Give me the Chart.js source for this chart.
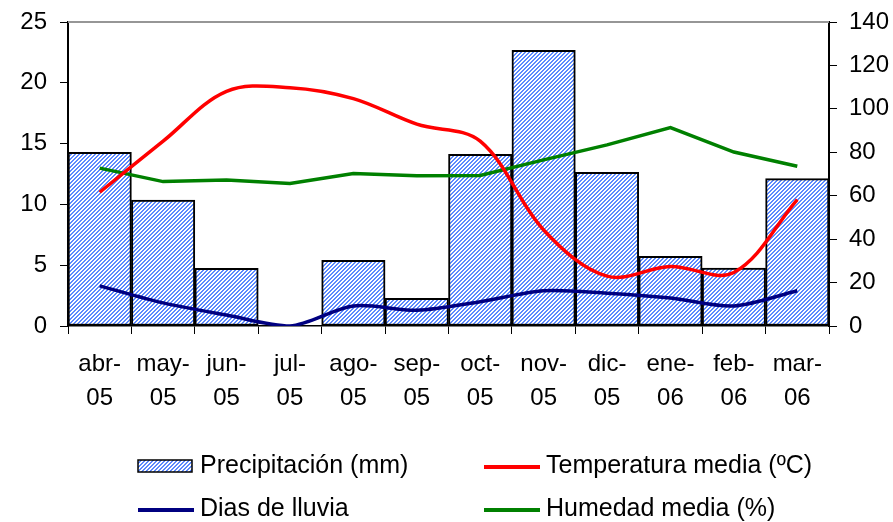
<!DOCTYPE html>
<html>
<head>
<meta charset="utf-8">
<script src="https://cdn.jsdelivr.net/npm/chart.js@4.4.1/dist/chart.umd.min.js"></script>
<style>
  body { margin: 0; background: #fff; }
  #wrap { width: 893px; height: 522px; position: relative; }
</style>
</head>
<body>
<div id="wrap"><canvas id="climaChart" width="893" height="522"></canvas></div>
<script>
// Data
const meses = [['abr-', '05'], ['may-', '05'], ['jun-', '05'], ['jul-', '05'], ['ago-', '05'], ['sep-', '05'],
  ['oct-', '05'], ['nov-', '05'], ['dic-', '05'], ['ene-', '06'], ['feb-', '06'], ['mar-', '06']];
const precipitacion = [80, 58, 26.6, 0, 30.3, 12.8, 79.1, 127, 70.8, 32.1, 26.7, 67.9]; // mm, right axis
const temperatura = [11.0, 15.2, 19.3, 19.6, 18.7, 16.6, 15.2, 7.9, 4.1, 4.9, 4.4, 10.4]; // ºC, left axis
const diasLluvia = [3.3, 1.9, 0.9, 0, 1.65, 1.3, 2.0, 2.9, 2.7, 2.3, 1.65, 2.9]; // left axis
const humedad = [72.7, 66.5, 67.2, 65.6, 70.2, 69.2, 69.3, 76.5, 83.4, 91.4, 80.1, 73.6]; // %, right axis

const leftTicks = [0, 5, 10, 15, 20, 25];
const rightTicks = [0, 20, 40, 60, 80, 100, 120, 140];

const FONT = '"Liberation Sans", Arial, sans-serif';

// Hatched fill for the precipitation bars
const makeHatch = () => {
  const c = document.createElement('canvas');
  c.width = 4;
  c.height = 4;
  const g = c.getContext('2d');
  g.fillStyle = '#ffffff';
  g.fillRect(0, 0, 4, 4);
  g.fillStyle = '#5c8aff';
  for (let x = 0; x < 4; x++) {
    for (let y = 0; y < 4; y++) {
      const k = (x + y) % 4;
      if (k === 0 || k === 1) g.fillRect(x, y, 1, 1);
    }
  }
  return g.createPattern(c, 'repeat');
};

const ctx = document.getElementById('climaChart').getContext('2d');
const hatch = makeHatch();

// Plot border (top) and custom two column legend
const extrasPlugin = {
  id: 'extras',
  beforeDatasetsDraw(chart) {
    const { ctx, chartArea } = chart;
    ctx.save();
    ctx.strokeStyle = '#969696';
    ctx.lineWidth = 2;
    ctx.beginPath();
    ctx.moveTo(chartArea.left, chartArea.top);
    ctx.lineTo(chartArea.right, chartArea.top);
    ctx.stroke();
    ctx.restore();
  },
  afterDraw(chart) {
    const { ctx } = chart;
    const items = [
      { text: 'Precipitación (mm)', x: 138, y: 466, type: 'box' },
      { text: 'Temperatura media (ºC)', x: 484, y: 466, type: 'line', color: '#ff0000' },
      { text: 'Dias de lluvia', x: 138, y: 509, type: 'line', color: '#000080' },
      { text: 'Humedad media (%)', x: 484, y: 509, type: 'line', color: '#008000' },
    ];
    ctx.save();
    ctx.font = '25px ' + FONT;
    ctx.textBaseline = 'middle';
    items.forEach((it) => {
      if (it.type === 'box') {
        ctx.fillStyle = hatch;
        ctx.fillRect(it.x, it.y - 6, 54, 12);
        ctx.strokeStyle = '#000';
        ctx.lineWidth = 1.5;
        ctx.strokeRect(it.x, it.y - 6, 54, 12);
      } else {
        ctx.strokeStyle = it.color;
        ctx.lineWidth = 4;
        ctx.beginPath();
        ctx.moveTo(it.x, it.y + 1);
        ctx.lineTo(it.x + 56, it.y + 1);
        ctx.stroke();
      }
      ctx.fillStyle = '#000';
      ctx.fillText(it.text, it.x + 62, it.y);
    });
    ctx.restore();
  },
};

const tickFont = { family: FONT, size: 24 };

const climaChart = new Chart(ctx, {
  type: 'bar',
  data: {
    labels: meses,
    datasets: [
      {
        label: 'Temperatura media (ºC)',
        type: 'line',
        data: temperatura,
        yAxisID: 'y',
        borderColor: '#ff0000',
        borderWidth: 3.5,
        pointRadius: 0,
        tension: 0.35,
        order: 1,
      },
      {
        label: 'Humedad media (%)',
        type: 'line',
        data: humedad,
        yAxisID: 'y1',
        borderColor: '#008000',
        borderWidth: 3.5,
        pointRadius: 0,
        tension: 0,
        order: 2,
      },
      {
        label: 'Dias de lluvia',
        type: 'line',
        data: diasLluvia,
        yAxisID: 'y',
        borderColor: '#000080',
        borderWidth: 3.5,
        pointRadius: 0,
        tension: 0.3,
        order: 3,
      },
      {
        label: 'Precipitación (mm)',
        data: precipitacion,
        yAxisID: 'y1',
        backgroundColor: hatch,
        borderColor: '#000000',
        borderWidth: 2,
        borderSkipped: false,
        barPercentage: 1,
        categoryPercentage: 1,
        order: 5,
      },
    ],
  },
  options: {
    responsive: false,
    animation: false,
    layout: {
      padding: { top: 22, left: 0, right: 0, bottom: 0 },
    },
    plugins: {
      legend: { display: false },
      tooltip: { enabled: false },
    },
    scales: {
      x: {
        offset: true,
        grid: {
          offset: true,
          drawOnChartArea: false,
          drawTicks: true,
          tickLength: 8,
          color: '#000',
        },
        border: { color: '#000', width: 1.5 },
        ticks: {
          color: '#000',
          font: { ...tickFont, lineHeight: 1.4 },
          padding: 14,
          maxRotation: 0,
          autoSkip: false,
        },
        afterFit: (scale) => {
          scale.height = 196;
          scale.paddingLeft = 0;
          scale.paddingRight = 0;
        },
      },
      y: {
        position: 'left',
        min: 0,
        max: 25,
        afterBuildTicks: (scale) => {
          scale.ticks = leftTicks.map((v) => ({ value: v }));
        },
        grid: { drawOnChartArea: false, tickLength: 8, color: '#000' },
        border: { color: '#000', width: 2 },
        ticks: { color: '#000', font: tickFont, padding: 13 },
        afterFit: (scale) => {
          scale.width = 68;
          scale.paddingTop = 0;
          scale.paddingBottom = 0;
        },
      },
      y1: {
        position: 'right',
        min: 0,
        max: 140,
        afterBuildTicks: (scale) => {
          scale.ticks = rightTicks.map((v) => ({ value: v }));
        },
        grid: { drawOnChartArea: false, tickLength: 8, color: '#000' },
        border: { color: '#000', width: 2 },
        ticks: { color: '#000', font: tickFont, padding: 12 },
        afterFit: (scale) => {
          scale.width = 64;
          scale.paddingTop = 0;
          scale.paddingBottom = 0;
        },
      },
    },
  },
  plugins: [extrasPlugin],
});
</script>
</body>
</html>
